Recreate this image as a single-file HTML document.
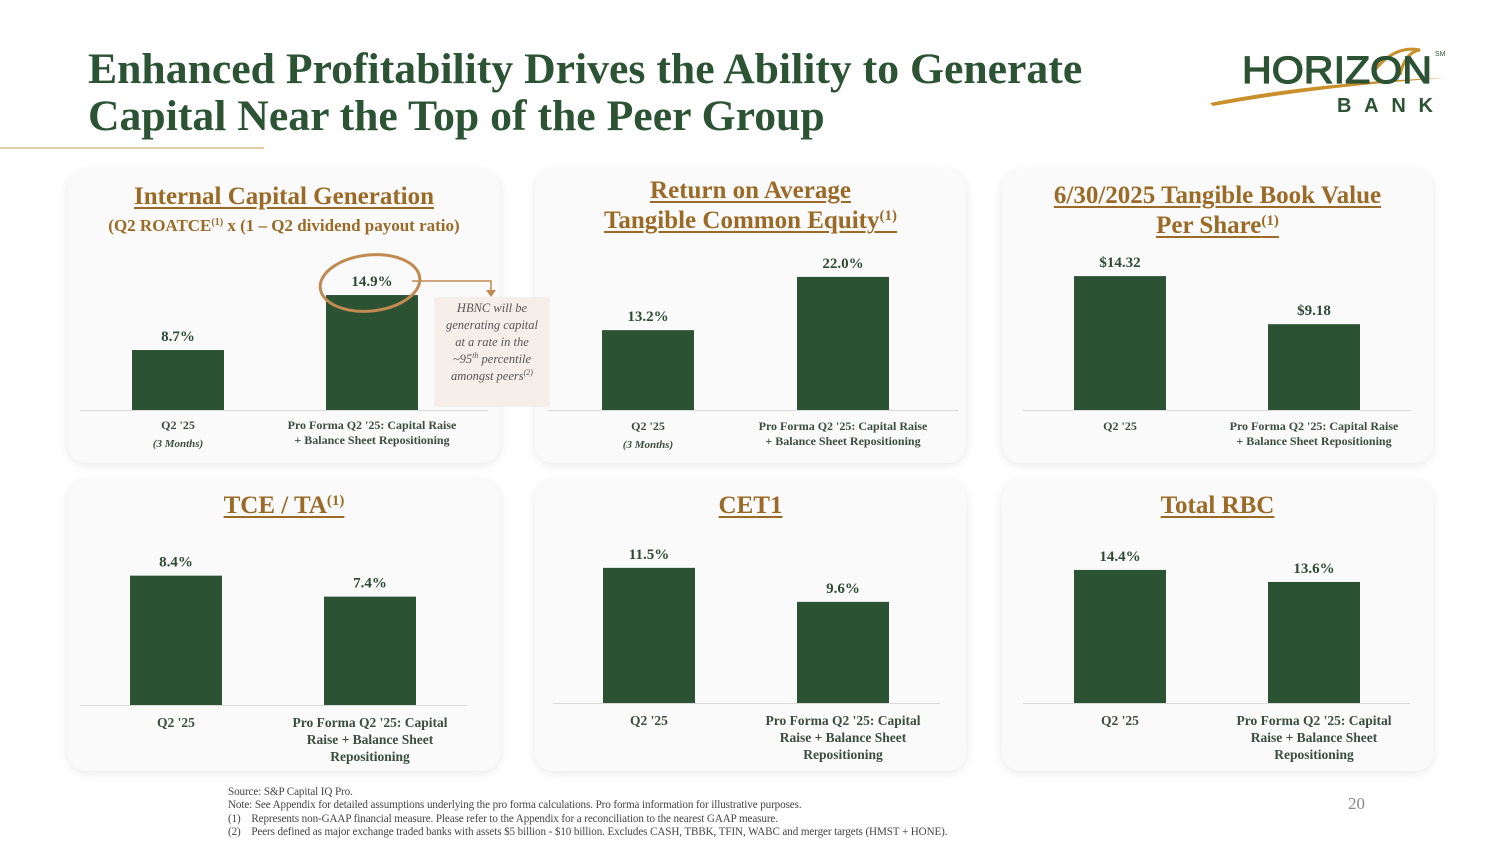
<!DOCTYPE html>
<html><head><meta charset="utf-8">
<style>
html,body{margin:0;padding:0;background:#fff;}
body{width:1500px;height:843px;position:relative;overflow:hidden;font-family:"Liberation Serif",serif;}
.title{position:absolute;left:88px;top:46px;font-size:43.7px;line-height:47px;font-weight:bold;color:#2c5334;margin:0;}
.rule{position:absolute;left:0;top:147px;width:264px;height:2px;background:#e3cfa6;}
.panel{position:absolute;background:#fafafa;border-radius:18px;box-shadow:0 2px 10px rgba(0,0,0,0.09);}
.ptitle{position:absolute;left:0;width:100%;text-align:center;color:#9a6a26;font-weight:bold;font-size:25px;line-height:30px;}
.ptitle u{text-decoration-thickness:2px;text-underline-offset:3px;}
.ptitle sup{font-size:15px;line-height:0;vertical-align:8px;}
.sub{position:absolute;left:0;width:100%;text-align:center;color:#9a6a26;font-weight:bold;font-size:17px;line-height:20px;}
.sub sup{font-size:10px;line-height:0;vertical-align:6px;}
#chart{position:absolute;left:0;top:0;}
.foot{position:absolute;left:228px;top:786px;font-size:11.1px;line-height:13.3px;color:#444;letter-spacing:-0.1px;}
.pg{position:absolute;left:1348px;top:794px;font-size:17px;color:#888;}
.callout{position:absolute;left:434px;top:297px;width:116px;height:110px;background:#f6eee9;font-style:italic;font-size:12.5px;line-height:17px;color:#555;text-align:center;padding:3px 8px 0;box-sizing:border-box;}
.callout sup{font-size:8px;line-height:0;vertical-align:5px;}
</style></head><body>
<h1 class="title">Enhanced Profitability Drives the Ability to Generate<br>Capital Near the Top of the Peer Group</h1>
<div class="rule"></div>

<svg style="position:absolute;left:1205px;top:40px" width="250" height="80" viewBox="0 0 250 80">
<path d="M5,63 Q110,42 240,38 Q120,46 8,66 Z" fill="#c98f2a"/>
<path d="M170,30 Q190,5 215,10 Q200,12 195,35" fill="none" stroke="#c98f2a" stroke-width="3"/>
<text x="37" y="43" font-family="Liberation Sans, sans-serif" font-size="38" fill="#2c5334" stroke="#2c5334" stroke-width="1.2" textLength="190" lengthAdjust="spacingAndGlyphs">HORIZON</text>
<text x="230" y="16" font-family="Liberation Sans, sans-serif" font-size="7" fill="#2c5334">SM</text>
<text x="132" y="72" font-family="Liberation Sans, sans-serif" font-size="20" font-weight="bold" fill="#2c5334" textLength="96" lengthAdjust="spacing">BANK</text>
</svg>

<div class="panel" style="left:68px;top:170px;width:432px;height:293px;">
 <div class="ptitle" style="top:12px"><u>Internal Capital Generation</u></div>
 <div class="sub" style="top:46px">(Q2 ROATCE<sup>(1)</sup> x (1 – Q2 dividend payout ratio)</div>
</div>
<div class="panel" style="left:535px;top:170px;width:431px;height:293px;">
 <div class="ptitle" style="top:6px"><u>Return on Average</u><br><u>Tangible Common Equity<sup>(1)</sup></u></div>
</div>
<div class="panel" style="left:1002px;top:170px;width:431px;height:293px;">
 <div class="ptitle" style="top:11px"><u>6/30/2025 Tangible Book Value</u><br><u>Per Share<sup>(1)</sup></u></div>
</div>
<div class="panel" style="left:68px;top:480px;width:432px;height:291px;">
 <div class="ptitle" style="top:11px"><u>TCE / TA<sup>(1)</sup></u></div>
</div>
<div class="panel" style="left:535px;top:480px;width:431px;height:291px;">
 <div class="ptitle" style="top:11px"><u>CET1</u></div>
</div>
<div class="panel" style="left:1002px;top:480px;width:431px;height:291px;">
 <div class="ptitle" style="top:11px"><u>Total RBC</u></div>
</div>

<div class="callout">HBNC will be generating capital at a rate in the ~95<sup>th</sup> percentile amongst peers<sup>(2)</sup></div>

<svg id="chart" width="1500" height="843"></svg>

<div class="foot">Source: S&amp;P Capital IQ Pro.<br>Note: See Appendix for detailed assumptions underlying the pro forma calculations. Pro forma information for illustrative purposes.<br>(1)&nbsp;&nbsp;&nbsp;&nbsp;Represents non-GAAP financial measure. Please refer to the Appendix for a reconciliation to the nearest GAAP measure.<br>(2)&nbsp;&nbsp;&nbsp;&nbsp;Peers defined as major exchange traded banks with assets $5 billion - $10 billion. Excludes CASH, TBBK, TFIN, WABC and merger targets (HMST + HONE).</div>
<div class="pg">20</div>

<script>
const categories = ["Q2 '25", "Pro Forma Q2 '25"];
const icgValues = [8.7, 14.9];
const roatceValues = [13.2, 22.0];
const tbvValues = [14.32, 9.18];
const tceValues = [8.4, 7.4];
const cet1Values = [11.5, 9.6];
const rbcValues = [14.4, 13.6];
const icgLabels = ["8.7%", "14.9%"];
const roatceLabels = ["13.2%", "22.0%"];
const tbvLabels = ["$14.32", "$9.18"];
const tceLabels = ["8.4%", "7.4%"];
const cet1Labels = ["11.5%", "9.6%"];
const rbcLabels = ["14.4%", "13.6%"];

const NS = "http://www.w3.org/2000/svg";
const svg = document.getElementById('chart');
function mk(tag, attrs, parent){const e=document.createElementNS(NS,tag);for(const k in attrs)e.setAttribute(k,attrs[k]);(parent||svg).appendChild(e);return e;}

const panels = [
 {name:'icg', vals:icgValues, labels:icgLabels, base:410, x0:80, x1:488, cx:[178,372], dmin:1.94, k:8.87, cat:[["Q2 '25"],["Pro Forma Q2 '25: Capital Raise","+ Balance Sheet Repositioning"]], sub:["(3 Months)",null], catY:429, small:true},
 {name:'roatce', vals:roatceValues, labels:roatceLabels, base:410, x0:548, x1:958, cx:[648,843], dmin:0, k:6.05, cat:[["Q2 '25"],["Pro Forma Q2 '25: Capital Raise","+ Balance Sheet Repositioning"]], sub:["(3 Months)",null], catY:430, small:true},
 {name:'tbv', vals:tbvValues, labels:tbvLabels, base:410, x0:1023, x1:1411, cx:[1120,1314], dmin:0, k:9.35, cat:[["Q2 '25"],["Pro Forma Q2 '25: Capital Raise","+ Balance Sheet Repositioning"]], sub:[null,null], catY:430, small:true},
 {name:'tce', vals:tceValues, labels:tceLabels, base:705, x0:80, x1:467, cx:[176,370], dmin:2.24, k:21, cat:[["Q2 '25"],["Pro Forma Q2 '25: Capital","Raise + Balance Sheet","Repositioning"]], sub:[null,null], catY:727, small:false},
 {name:'cet1', vals:cet1Values, labels:cet1Labels, base:703, x0:553, x1:940, cx:[649,843], dmin:3.95, k:17.9, cat:[["Q2 '25"],["Pro Forma Q2 '25: Capital","Raise + Balance Sheet","Repositioning"]], sub:[null,null], catY:725, small:false},
 {name:'rbc', vals:rbcValues, labels:rbcLabels, base:703, x0:1023, x1:1410, cx:[1120,1314], dmin:5.53, k:15, cat:[["Q2 '25"],["Pro Forma Q2 '25: Capital","Raise + Balance Sheet","Repositioning"]], sub:[null,null], catY:725, small:false}
];
const BW = 92;
panels.forEach(p=>{
 const y = v => p.base - (v - p.dmin) * p.k;
 const g = mk('g',{});
 
 
 const ax = mk('line',{x1:p.x0,x2:p.x1,y1:p.base+0.5,y2:p.base+0.5,stroke:'#d9d9d9','stroke-width':1},g);
 
 
 p.vals.forEach((v,i)=>{
  const top = y(v);
  const r = mk('rect',{x:p.cx[i]-BW/2,y:top,width:BW,height:p.base-top,fill:'#2c5234'},g);
  
  
  const t = mk('text',{x:p.cx[i],y:top-9,'text-anchor':'middle','font-family':'Liberation Serif, serif','font-size':15,'font-weight':'bold',fill:'#2d4a33'},g);
  t.textContent = p.labels[i];
  
  
  const fs = p.small?12:13.5, lh = p.small?15:17;
  p.cat[i].forEach((line,j)=>{
   const c = mk('text',{x:p.cx[i],y:p.catY+j*lh,'text-anchor':'middle','font-family':'Liberation Serif, serif','font-size':fs,'font-weight':'bold',fill:'#3a4d3e'},g);
   c.textContent = line;
   
   
  });
  if(p.sub[i]){
   const s = mk('text',{x:p.cx[i],y:p.catY+18,'text-anchor':'middle','font-family':'Liberation Serif, serif','font-size':11,'font-style':'italic','font-weight':'bold',fill:'#3a4d3e'},g);
   s.textContent = p.sub[i];
   
   
  }
 });
});
const hl = mk('ellipse',{cx:370,cy:283,rx:50,ry:28,fill:'none',stroke:'#c08a50','stroke-width':3,transform:'rotate(-6 370 283)'});


const ar = mk('path',{d:'M412,281 H491 V292',fill:'none',stroke:'#c08a50','stroke-width':1.5});


const ah = mk('path',{d:'M486,290 L496,290 L491,297 Z',fill:'#c08a50'});


</script>
</body></html>
